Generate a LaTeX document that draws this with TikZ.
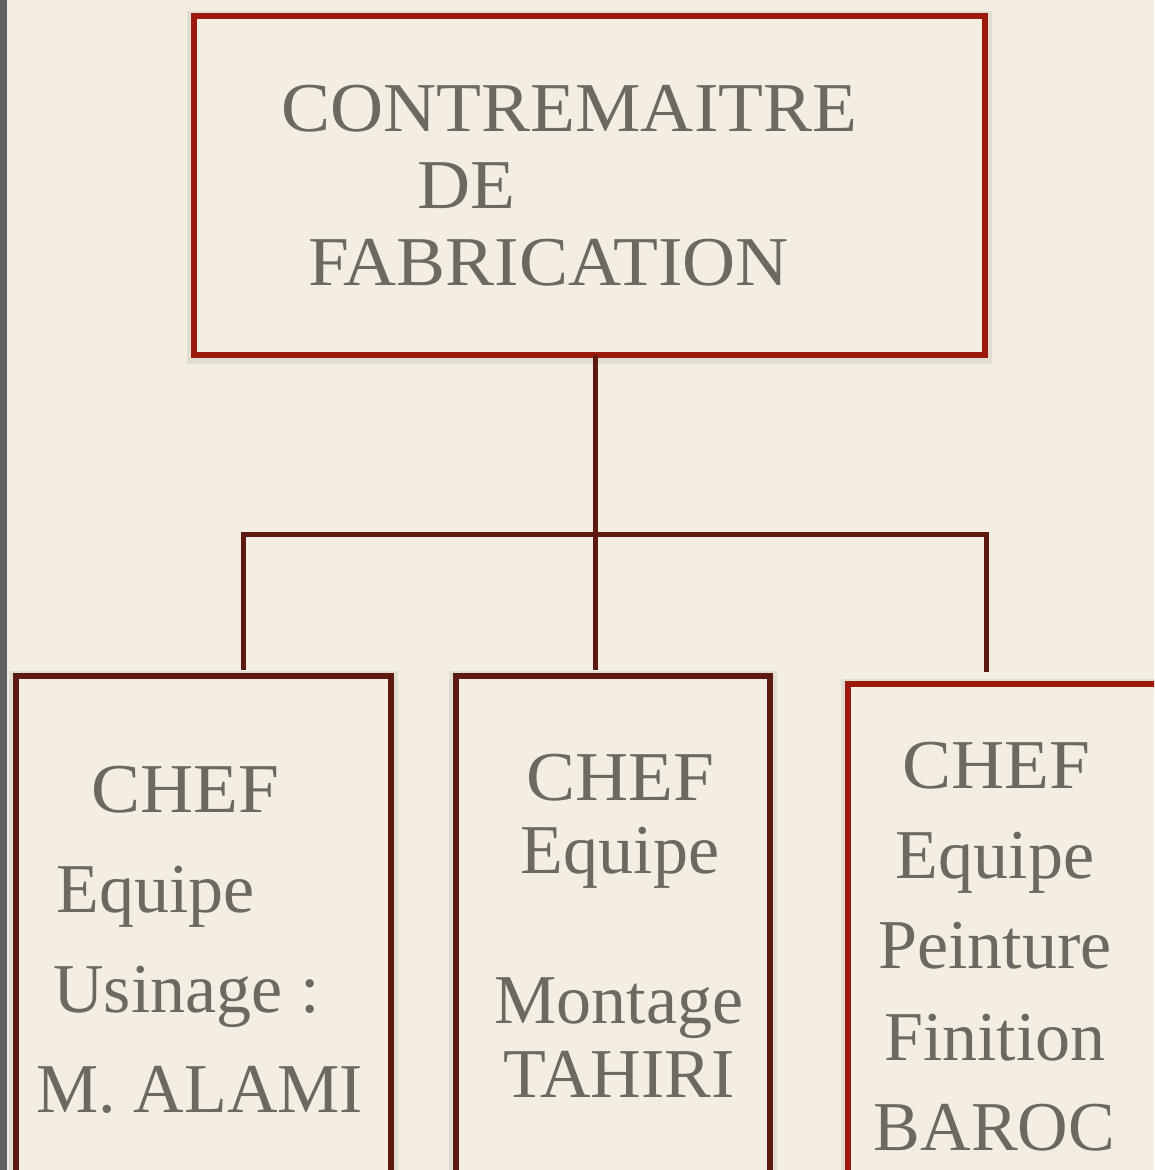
\documentclass[tikz,border=0pt]{standalone}
\usepackage{fontspec}
\setmainfont{Liberation Serif}
\newfontfamily\widecaps{Liberation Serif}[FakeStretch=1.05]
\definecolor{paper}{HTML}{F4EEE2}
\definecolor{ink}{HTML}{6B6961}
\definecolor{brickred}{HTML}{9C1A0B}
\definecolor{darkbrick}{HTML}{5E1A10}
\definecolor{spine}{HTML}{5F5F5F}
\begin{document}
\begin{tikzpicture}[x=1pt,y=-1pt,
  box/.style={draw, rectangle, line width=6pt, inner sep=0pt, outer sep=0pt, fill=paper},
  redbox/.style={box, draw=brickred},
  darkbox/.style={box, draw=darkbrick},
  halo/.style={draw=black, opacity=0.07, line width=14pt},
  wire/.style={draw=darkbrick, line width=5pt, line join=miter},
  label/.style={anchor=base, inner sep=0pt, text=ink, font=\fontsize{70}{80}\selectfont},
  caps/.style={label, font=\widecaps\fontsize{70}{80}\selectfont}]
  % page and its background
  \clip (0,0) rectangle (1154,1170);
  \fill[paper] (0,0) rectangle (1154,1170);
  \fill[spine] (0,0) rectangle (7,1170);

  % soft shadows under the frames
  \draw[halo] (194,18) rectangle (985,357);
  \draw[halo] (16,678) rectangle (391,1230);
  \draw[halo] (456,678) rectangle (770,1230);
  \draw[halo] (848,686) rectangle (1170,1230);

  % frames
  \node[redbox, minimum width=791pt, minimum height=339pt] (top) at (589.5,185.5) {};
  \node[darkbox, minimum width=375pt, minimum height=554pt] (left) at (203.5,953) {};
  \node[darkbox, minimum width=314pt, minimum height=554pt] (mid) at (613,953) {};
  \node[redbox, minimum width=322pt, minimum height=546pt] (right) at (1009,957) {};

  % branching connectors
  \coordinate (jl) at (243,534);
  \coordinate (jm) at (595,534);
  \coordinate (jr) at (986,534);
  \draw[wire] (jm |- top.south) -- ([yshift=6pt]jm |- mid.north);
  \draw[wire] ([yshift=6pt]jl |- left.north) -- (jl) -- (jr) -- ([yshift=12pt]jr |- right.north);

  % head
  \node[caps] (h1) at (569.5,131) {CONTREMAITRE};
  \node[caps] (h2) at (466,208) {DE};
  \node[caps] (h3) at (548.5,285) {FABRICATION};

  % machining team
  \node[caps] (a1) at (185.5,812) {CHEF};
  \node[label] (a2) at (155.5,912) {Equipe};
  \node[label] (a3) at (186.5,1012) {Usinage :};
  \node[label] (a4) at (200,1112) {M. ALAMI};

  % assembly team
  \node[caps] (b1) at (620,800) {CHEF};
  \node[label] (b2) at (620,873) {Equipe};
  \node[label] (b3) at (619,1023) {Montage};
  \node[label] (b4) at (619,1097) {TAHIRI};

  % painting team
  \node[caps] (c1) at (996,788) {CHEF};
  \node[label] (c2) at (995,878) {Equipe};
  \node[label] (c3) at (995,968) {Peinture};
  \node[label] (c4) at (995,1060) {Finition};
  \node[label] (c5) at (994.5,1150) {BAROC};
\end{tikzpicture}
\end{document}
